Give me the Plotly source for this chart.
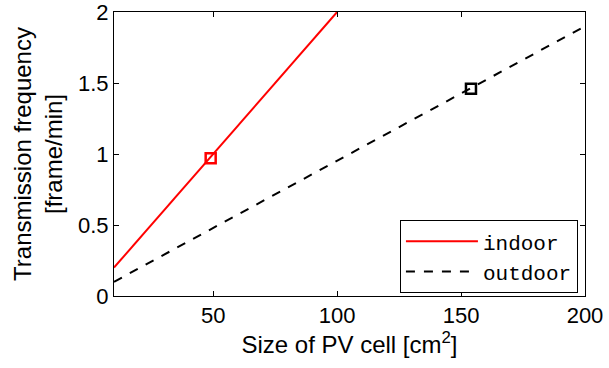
import plotly.graph_objects as go

# Data
indoor_x = [10, 100]
indoor_y = [0.2, 2.0]
outdoor_x = [10, 200]
outdoor_y = [0.1, 1.9]
indoor_mark_x = [49]
indoor_mark_y = [0.97]
outdoor_mark_x = [154]
outdoor_mark_y = [1.46]
x_ticks = [50, 100, 150, 200]
y_ticks = [0, 0.5, 1, 1.5, 2]
y_tick_labels = ["0", "0.5", "1", "1.5", "2"]

FONT = "Arial, Liberation Sans, sans-serif"

fig = go.Figure()
fig.add_trace(go.Scatter(x=indoor_x, y=indoor_y, mode="lines", name="indoor",
                         line=dict(color="#ff0000", width=2)))
fig.add_trace(go.Scatter(x=outdoor_x, y=outdoor_y, mode="lines", name="outdoor",
                         line=dict(color="#000000", width=2, dash="dash")))
fig.add_trace(go.Scatter(x=indoor_mark_x, y=indoor_mark_y, mode="markers", showlegend=False,
                         marker=dict(symbol="square-open", size=10, color="#ff0000",
                                     line=dict(width=2.5, color="#ff0000"))))
fig.add_trace(go.Scatter(x=outdoor_mark_x, y=outdoor_mark_y, mode="markers", showlegend=False,
                         marker=dict(symbol="square-open", size=10, color="#000000",
                                     line=dict(width=2.5, color="#000000"))))

axis_common = dict(showline=True, linecolor="black", linewidth=1, mirror="ticks",
                   ticks="inside", ticklen=5, tickcolor="black", showgrid=False,
                   zeroline=False, automargin=False, ticklabeloverflow="allow",
                   tickfont=dict(size=22, color="black", family=FONT))

fig.update_xaxes(range=[10, 200], tickvals=x_ticks,
                 title=dict(text="Size of PV cell [cm<sup>2</sup>]",
                            font=dict(size=24, color="black", family=FONT),
                            standoff=5),
                 **axis_common)
fig.update_yaxes(range=[0, 2], tickvals=y_ticks, ticktext=y_tick_labels,
                 title=dict(text="Transmission frequency<br>[frame/min]",
                            font=dict(size=24, color="black", family=FONT),
                            standoff=8),
                 **axis_common)

fig.update_layout(
    width=609, height=368,
    margin=dict(l=114, r=24, t=12, b=72, autoexpand=False),
    paper_bgcolor="white", plot_bgcolor="white",
    font=dict(family=FONT, color="black", size=22),
    legend=dict(x=0.985, y=0.01, xanchor="right", yanchor="bottom",
                bgcolor="white", bordercolor="black", borderwidth=1,
                font=dict(family="Courier New, Liberation Mono, monospace", size=21, color="black"),
                itemwidth=72, tracegroupgap=0),
    showlegend=True,
)

fig.write_html("out.html", config={"displayModeBar": False},
               post_script="document.body.style.margin='0';document.body.style.overflow='hidden';")
